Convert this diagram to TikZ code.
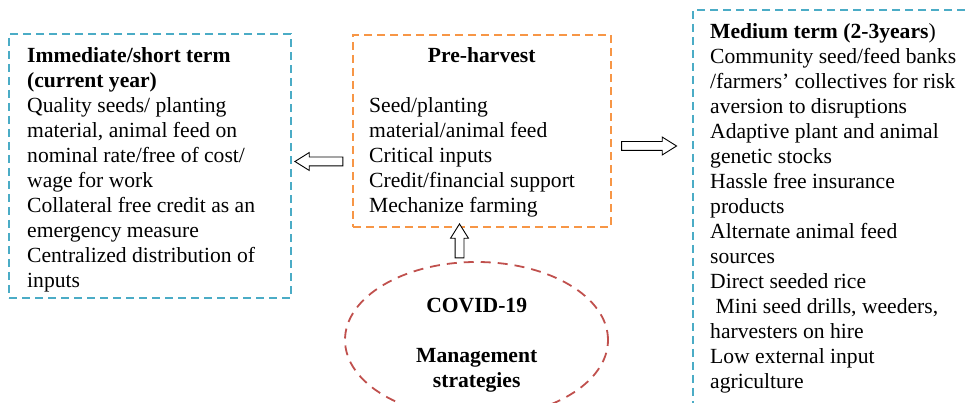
\documentclass[tikz,border=0pt]{standalone}
\usepackage{fontspec}
\setmainfont{Liberation Serif}
\usetikzlibrary{shapes.geometric,shapes.arrows}
\definecolor{cyanbox}{HTML}{4BACC6}
\definecolor{orangebox}{HTML}{F79646}
\definecolor{redbox}{HTML}{C0504D}
\begin{document}
\begin{tikzpicture}[x=1pt,y=-1pt,
  txt/.style={font=\fontsize{21.6}{25}\selectfont, inner sep=0pt, align=left},
  frame/.style={rectangle, draw, line width=1.8pt, dash pattern=on 8pt off 5pt, inner sep=0pt},
  blockarrow/.style={single arrow, draw=black, fill=white, line width=0.9pt, inner sep=4pt,
    single arrow head extend=4.5pt, single arrow tip angle=64}]
\useasboundingbox (0,0) rectangle (970,403);
\clip (0,0) rectangle (970,403);
% boxes
\node[frame, draw=cyanbox, minimum width=282pt, minimum height=264pt] (lbox) at (150,166) {};
\node[frame, draw=orangebox, minimum width=258pt, minimum height=192pt] (pbox) at (482,131) {};
\node[frame, draw=cyanbox, minimum width=282pt, minimum height=410pt] (mbox) at (834,215) {};
\node[ellipse, draw=redbox, line width=1.8pt, dash pattern=on 10pt off 7pt, inner sep=0pt,
  minimum width=263pt, minimum height=156pt] (covid) at (476.5,340) {};
% texts
\node[txt, anchor=north west] (ltext) at (27,44.5) {\strut\textbf{Immediate/short term}\\
\textbf{(current year)}\\
Quality seeds/ planting\\
material, animal feed on\\
nominal rate/free of cost/\\
wage for work\\
Collateral free credit as an\\
emergency measure\\
Centralized distribution of\\
inputs};
\node[txt, anchor=base] (ptitle) at (481.7,62.7) {\textbf{Pre-harvest}};
\node[txt, anchor=north west] (ptext) at (369,95.2) {\strut Seed/planting\\
material/animal feed\\
Critical inputs\\
Credit/financial support\\
Mechanize farming};
\node[txt, anchor=north west] (mtext) at (710,20.5) {\strut\textbf{Medium term (2-3years})\\
Community seed/feed banks\\
/farmers’ collectives for risk\\
aversion to disruptions\\
Adaptive plant and animal\\
genetic stocks\\
Hassle free insurance\\
products\\
Alternate animal feed\\
sources\\
Direct seeded rice\\
\hspace*{5.4pt}Mini seed drills, weeders,\\
harvesters on hire\\
Low external input\\
agriculture};
\node[txt, align=center, anchor=north] (ctext) at (476.7,294.5) {\strut\textbf{COVID-19}\\[25pt]
\textbf{Management}\\
\textbf{strategies}};
% block arrows
\node[blockarrow, shape border rotate=180, minimum height=48pt] (al) at (322.5,161.5) {};
\node[blockarrow, minimum height=55pt] (ar) at (645.5,146) {};
\node[blockarrow, shape border rotate=90, minimum height=34pt] (au) at (459.5,244.5) {};
\end{tikzpicture}
\end{document}
